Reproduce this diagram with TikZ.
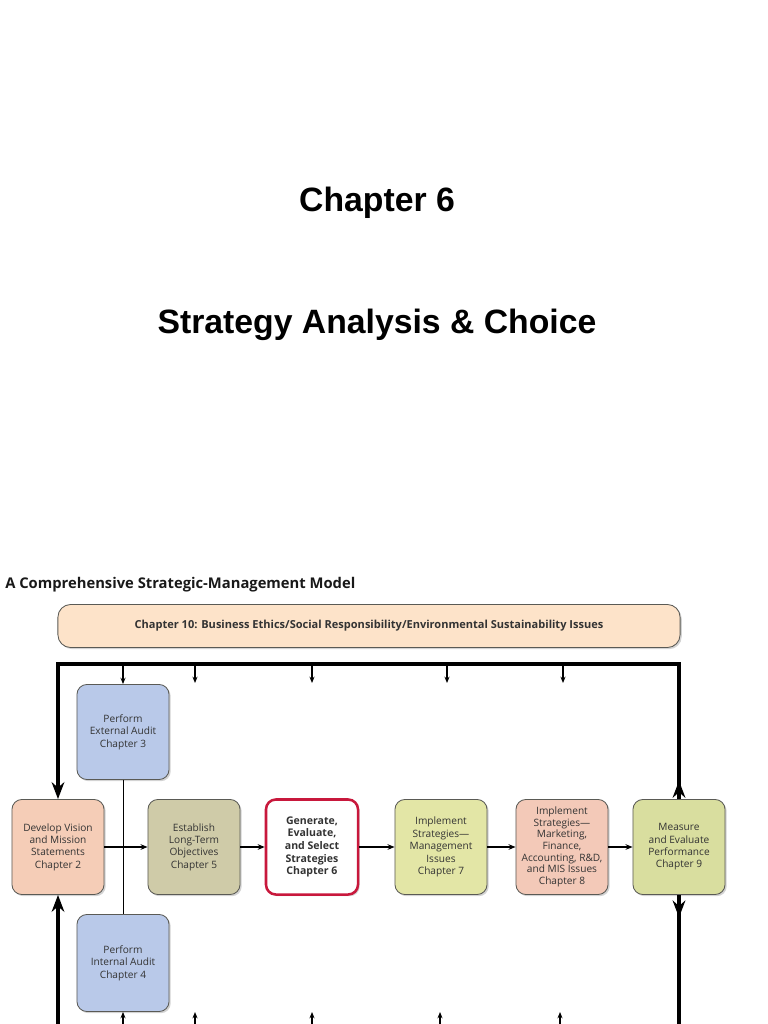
\documentclass[tikz,border=0pt]{standalone}
\usepackage{fontspec}
\setmainfont{Liberation Sans}
\newfontfamily\modelfont{Open Sans}
\usetikzlibrary{arrows.meta,shadows,decorations.markings}

\definecolor{ethicsfill}{HTML}{FDE3C9}
\definecolor{auditfill}{HTML}{B9C9E9}
\definecolor{visionfill}{HTML}{F5CDB7}
\definecolor{objfill}{HTML}{CFCBA8}
\definecolor{redline}{HTML}{C8183C}
\definecolor{mgmtfill}{HTML}{E3E6A6}
\definecolor{finfill}{HTML}{F3C9B8}
\definecolor{measurefill}{HTML}{D9DE9F}
\definecolor{boxline}{HTML}{5A5A55}
\definecolor{boxtext}{HTML}{333333}

\tikzset{
  stage/.style={draw=boxline, line width=0.6pt, rounded corners=7pt,
    minimum width=2.3cm, minimum height=2.375cm, inner sep=1pt,
    align=center, text=boxtext,
    font=\modelfont\fontsize{7.2}{8.8}\selectfont,
    drop shadow={shadow xshift=1.2pt, shadow yshift=-1.2pt, opacity=0.35}},
  flow/.style={-{Stealth[length=5pt,width=4pt]}, line width=1pt},
  feed/.style={-{Stealth[length=4.5pt,width=3.6pt]}, line width=0.8pt},
  bigline/.style={line width=2.8pt},
  bigtip/.tip={Stealth[length=12pt,width=9pt]},
  headat/.style={postaction={decorate},
    decoration={markings, mark=at position #1 with {\arrow{bigtip}}}},
}

\begin{document}
\begin{tikzpicture}[x=0.025cm,y=-0.025cm]
\useasboundingbox (0,0) rectangle (768,1024);
%    \draw[orange,thin] (0,0) grid[step=50] (768,1024);

    % titles
    \node [anchor=base,font=\bfseries\fontsize{24}{28}\selectfont] (chap) at (377,212) {Chapter 6};
    \node [anchor=base,font=\bfseries\fontsize{24}{28}\selectfont] (subj) at (377,333) {Strategy Analysis \& Choice};

    \node [anchor=base west,inner sep=0pt,font=\modelfont\bfseries\fontsize{10.5}{12}\selectfont,text=black!90] (heading) at (5,588) {A Comprehensive Strategic-Management Model};

    % chapter 10 bar
    \node [draw=boxline,fill=ethicsfill,line width=0.6pt,rounded corners=9pt,
           minimum width=15.55cm,minimum height=1.075cm,
           font=\modelfont\bfseries\fontsize{7.85}{9}\selectfont,text=boxtext,
           drop shadow={shadow xshift=1.2pt,shadow yshift=-1.2pt,opacity=0.35}]
           (ethics) at (369,626) {Chapter 10: Business Ethics/Social Responsibility/Environmental Sustainability Issues};

    % audits
    \node [stage,fill=auditfill] (ext) at (123,732) {Perform\\External Audit\\Chapter 3};
    \node [stage,fill=auditfill,minimum height=2.425cm] (int) at (123,963) {Perform\\Internal Audit\\Chapter 4};

    % main row
    \node [stage,fill=visionfill] (vision) at (58,847) {Develop Vision\\and Mission\\Statements\\Chapter 2};
    \node [stage,fill=objfill] (objectives) at (194,847) {Establish\\Long-Term\\Objectives\\Chapter 5};
    \node [stage,fill=white,draw=redline,line width=1.8pt,font=\modelfont\bfseries\fontsize{7.5}{9}\selectfont] (generate) at (312,847) {Generate,\\Evaluate,\\and Select\\Strategies\\Chapter 6};
    \node [stage,fill=mgmtfill] (implmgmt) at (441,847) {Implement\\Strategies—\\Management\\Issues\\Chapter 7};
    \node [stage,fill=finfill,font=\modelfont\fontsize{7.2}{8.3}\selectfont] (implfin) at (562,847) {Implement\\Strategies—\\Marketing,\\Finance,\\Accounting, R\&D,\\and MIS Issues\\Chapter 8};
    \node [stage,fill=measurefill] (measure) at (679,847) {Measure\\and Evaluate\\Performance\\Chapter 9};

    \draw[flow] (vision) -- (objectives);
    \draw[flow] (objectives) -- (generate);
    \draw[flow] (generate) -- (implmgmt);
    \draw[flow] (implmgmt) -- (implfin);
    \draw[flow] (implfin) -- (measure);

    \draw[line width=0.6pt] (ext) -- (int);

    % feedback loop
    \coordinate (topleft) at (58,664);
    \coordinate (topright) at (679,664);
    \coordinate (botleft) at (58,1024);
    \coordinate (botright) at (679,1024);
    \draw[bigline,headat=13pt,-bigtip] (measure) -- (topright) -- (topleft) -- (vision);
    \draw[bigline,-bigtip] (botleft) -- (vision);
    \draw[bigline,headat=16pt] (measure) -- (botright);

    % chapter 10 feeds
    \draw[feed] (123,664) -- (ext);
    \foreach \x [count=\i] in {195,312,447,563} {
      \coordinate (dn\i) at (\x,683);
      \draw[feed] (\x,664) -- (dn\i);
    }
    \draw[feed] (123,1024) -- (int);
    \foreach \x [count=\i] in {195,312,440,560} {
      \coordinate (up\i) at (\x,1012);
      \draw[feed] (\x,1024) -- (up\i);
    }

\end{tikzpicture}
\end{document}
